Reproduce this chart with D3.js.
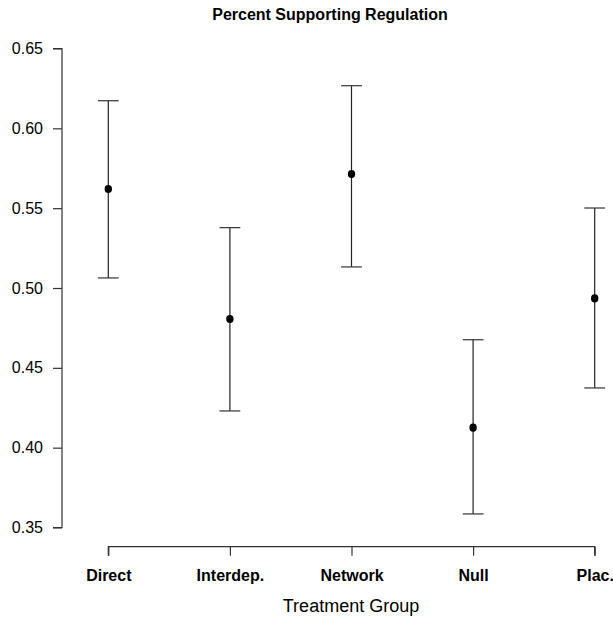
<!doctype html>
<html>
<head>
<meta charset="utf-8">
<title>Percent Supporting Regulation</title>
<style>
  body { margin: 0; background: #fff; }
  svg text { font-family: "Liberation Sans", Arial, sans-serif; }
</style>
</head>
<body>
<div id="chart"></div>
<script src="https://d3js.org/d3.v7.min.js"></script>
<script>
// data
var groups = ["Direct", "Interdep.", "Network", "Null", "Plac."];
var means  = [0.562, 0.4806, 0.5714, 0.4125, 0.4935];
var lower  = [0.5063, 0.4230, 0.5132, 0.3585, 0.4374];
var upper  = [0.6173, 0.5378, 0.6267, 0.4676, 0.5501];
var yTicks = [0.35, 0.40, 0.45, 0.50, 0.55, 0.60, 0.65];

var width = 613, height = 620;

var svg = d3.select("#chart").append("svg")
  .attr("width", width)
  .attr("height", height);

// scales
var x = d3.scalePoint()
  .domain(groups)
  .range([108.3, 594.7]);

var y = d3.scaleLinear()
  .domain([0.35, 0.65])
  .range([527.5, 48.5]);

// y axis
var yAxis = d3.axisLeft(y)
  .tickValues(yTicks)
  .tickFormat(d3.format(".2f"))
  .tickSize(9)
  .tickPadding(10);

var gy = svg.append("g")
  .attr("transform", "translate(62,0)")
  .call(yAxis);
gy.select(".domain").attr("d", "M-9," + y(0.65) + "H0V" + y(0.35) + "H-9");

// x axis
var xAxis = d3.axisBottom(x)
  .tickSize(9)
  .tickPadding(14);

var gx = svg.append("g")
  .attr("transform", "translate(0,546.7)")
  .call(xAxis);
gx.select(".domain").attr("d", "M" + x("Direct") + ",9V0H" + x("Plac.") + "V9");

svg.selectAll(".domain, .tick line")
  .attr("stroke", "#333")
  .attr("stroke-width", 1.2);

gy.selectAll(".tick text")
  .attr("font-size", "16px")
  .attr("fill", "#000");

gx.selectAll(".tick text")
  .attr("font-size", "16px")
  .attr("font-weight", "bold")
  .attr("fill", "#000");

// error bars
var data = groups.map(function(g, i) {
  return { g: g, m: means[i], lo: lower[i], hi: upper[i] };
});

var cap = 10.4;

var bars = svg.append("g").selectAll("g")
  .data(data)
  .enter()
  .append("g");

bars.append("line")
  .attr("x1", function(d) { return x(d.g); })
  .attr("x2", function(d) { return x(d.g); })
  .attr("y1", function(d) { return y(d.lo); })
  .attr("y2", function(d) { return y(d.hi); })
  .attr("stroke", "#222")
  .attr("stroke-width", 1.2);

bars.append("line")
  .attr("x1", function(d) { return x(d.g) - cap; })
  .attr("x2", function(d) { return x(d.g) + cap; })
  .attr("y1", function(d) { return y(d.hi); })
  .attr("y2", function(d) { return y(d.hi); })
  .attr("stroke", "#333")
  .attr("stroke-width", 1.2);

bars.append("line")
  .attr("x1", function(d) { return x(d.g) - cap; })
  .attr("x2", function(d) { return x(d.g) + cap; })
  .attr("y1", function(d) { return y(d.lo); })
  .attr("y2", function(d) { return y(d.lo); })
  .attr("stroke", "#333")
  .attr("stroke-width", 1.2);

bars.append("ellipse")
  .attr("cx", function(d) { return x(d.g); })
  .attr("cy", function(d) { return y(d.m); })
  .attr("rx", 3.7)
  .attr("ry", 4.1)
  .attr("fill", "#000");

// titles
svg.append("text")
  .attr("x", 330)
  .attr("y", 20)
  .attr("text-anchor", "middle")
  .attr("font-size", "16px")
  .attr("font-weight", "bold")
  .text("Percent Supporting Regulation");

svg.append("text")
  .attr("x", 351)
  .attr("y", 612)
  .attr("text-anchor", "middle")
  .attr("font-size", "18px")
  .text("Treatment Group");
</script>
</body>
</html>
